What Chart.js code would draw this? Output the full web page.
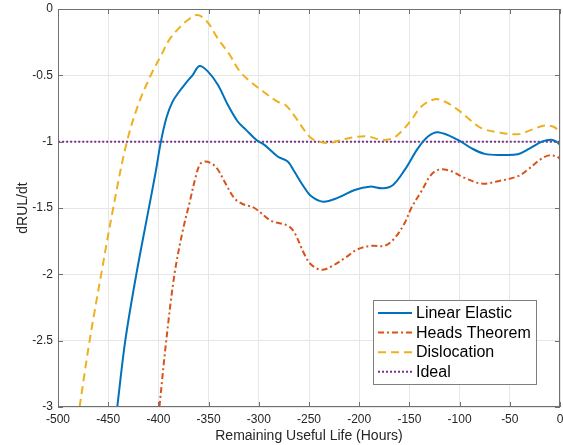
<!DOCTYPE html>
<html><head><meta charset="utf-8">
<script src="https://cdn.jsdelivr.net/npm/chart.js@4.4.1/dist/chart.umd.min.js"></script>
<style>html,body{margin:0;padding:0;background:#fff;}</style>
</head><body>
<canvas id="c" width="563" height="445"></canvas>
<script>
// ---- data ----
const xTicks = [-500,-450,-400,-350,-300,-250,-200,-150,-100,-50,0];
const yTicks = [-3,-2.5,-2,-1.5,-1,-0.5,0];
const seriesNames = ['Linear Elastic','Heads Theorem','Dislocation','Ideal'];

const linearX = [-441,-433,-422,-410,-403,-397.5,-392,-386,-379,-372.3,-365.7,-359.1,-350.8,-340.8,-330.9,-321,-312.7,-302,-294.4,-281.2,-271.2,-264.6,-256,-248,-236,-221,-204.5,-189.6,-176.3,-166.3,-154.7,-141.4,-131.5,-121.5,-101.6,-88.3,-75,-58.4,-42,-30,-18,-9,-4,0];
const linearY = [-3,-2.5,-2,-1.52,-1.24,-1,-0.82,-0.7,-0.62,-0.555,-0.496,-0.43,-0.47,-0.571,-0.722,-0.848,-0.911,-0.99,-1.024,-1.112,-1.15,-1.225,-1.33,-1.41,-1.452,-1.422,-1.364,-1.339,-1.351,-1.326,-1.213,-1.049,-0.961,-0.929,-0.986,-1.049,-1.092,-1.1,-1.095,-1.05,-1.0,-0.985,-0.998,-1.024];

const headsX = [-399,-392.2,-384,-376,-369,-363,-358.5,-353.4,-346,-340.8,-334.2,-324.3,-316,-304.4,-287.8,-271.2,-264.6,-254.3,-247.7,-237.7,-227.8,-214.5,-201.2,-187.9,-174.6,-164.7,-154.7,-148.1,-138.1,-128.2,-119.9,-108.2,-95,-78.4,-61.7,-41.8,-31.9,-21.9,-12,-3.6,0];
const headsY = [-3,-2.5,-2,-1.68,-1.46,-1.27,-1.17,-1.15,-1.17,-1.21,-1.3,-1.427,-1.47,-1.5,-1.596,-1.633,-1.684,-1.853,-1.928,-1.966,-1.941,-1.878,-1.81,-1.785,-1.785,-1.727,-1.613,-1.5,-1.374,-1.248,-1.21,-1.223,-1.273,-1.316,-1.298,-1.26,-1.21,-1.147,-1.105,-1.11,-1.13];

const dislocX = [-478.5,-468.5,-457,-445,-432,-420,-407,-397,-389,-379,-371,-361,-351,-341,-329,-319,-308,-296,-281,-274,-265,-255,-247.7,-239.4,-229.4,-217.8,-204.5,-191.2,-178,-166.3,-158,-148,-138.1,-124.8,-114.9,-101.6,-91.6,-78.4,-61.8,-41.8,-28.6,-15.3,-7,0];
const dislocY = [-3,-2.5,-2,-1.5,-1.02,-0.72,-0.49,-0.345,-0.23,-0.14,-0.085,-0.045,-0.1,-0.22,-0.345,-0.47,-0.55,-0.62,-0.7,-0.72,-0.8,-0.91,-0.974,-1,-1.01,-0.986,-0.966,-0.961,-0.986,-0.974,-0.923,-0.835,-0.735,-0.68,-0.697,-0.76,-0.823,-0.898,-0.929,-0.944,-0.911,-0.878,-0.886,-0.923];

const idealX = [-500,0];
const idealY = [-1,-1];

// ---- build ----
const pts = (xs, ys) => xs.map((x,i)=>({x:x, y:ys[i]}));
const FONT = "'Liberation Sans', Arial, Helvetica, sans-serif";
const styles = [
  {color:'#0072BD', dash:[]},
  {color:'#D95319', dash:[6,3,2,3]},
  {color:'#EDB120', dash:[8,5]},
  {color:'#7E2F8E', dash:[2,2]}
];
const allData = [pts(linearX,linearY), pts(headsX,headsY), pts(dislocX,dislocY), pts(idealX,idealY)];
const datasets = allData.map((d,i)=>({
  label: seriesNames[i], data: d,
  borderColor: styles[i].color, borderDash: styles[i].dash,
  borderWidth: 2, pointRadius: 0, fill: false,
  tension: 0.35, clip: 0
}));

const frameColor = '#707070';
const framePlugin = {
  id: 'frame',
  afterDatasetsDraw(chart) {
    const {ctx, chartArea: a, scales} = chart;
    ctx.save();
    ctx.strokeStyle = frameColor; ctx.lineWidth = 1; ctx.setLineDash([]);
    ctx.strokeRect(a.left + 0.5, a.top + 0.5, a.right - a.left - 1, a.bottom - a.top - 1);
    ctx.beginPath();
    xTicks.forEach(v => {
      const px = Math.round(scales.x.getPixelForValue(v)) + 0.5;
      ctx.moveTo(px, a.bottom); ctx.lineTo(px, a.bottom - 5);
      ctx.moveTo(px, a.top); ctx.lineTo(px, a.top + 5);
    });
    yTicks.forEach(v => {
      const py = Math.round(scales.y.getPixelForValue(v)) + 0.5;
      ctx.moveTo(a.left, py); ctx.lineTo(a.left + 5, py);
      ctx.moveTo(a.right, py); ctx.lineTo(a.right - 5, py);
    });
    ctx.stroke();

    // legend
    const bx = 373.5, by = 300.5, bw = 163, bh = 84;
    ctx.fillStyle = '#fff';
    ctx.fillRect(bx, by, bw, bh);
    ctx.strokeStyle = '#7f7f7f';
    ctx.strokeRect(bx, by, bw, bh);
    ctx.font = '16px ' + FONT;
    ctx.textBaseline = 'middle';
    ctx.textAlign = 'left';
    seriesNames.forEach((name, i) => {
      const yy = 313 + i * 19.6;
      ctx.strokeStyle = styles[i].color;
      ctx.lineWidth = 2;
      ctx.setLineDash(styles[i].dash);
      ctx.beginPath(); ctx.moveTo(378, yy); ctx.lineTo(412, yy); ctx.stroke();
      ctx.setLineDash([]);
      ctx.fillStyle = '#000';
      ctx.fillText(name, 416, yy + 0.5);
    });
    ctx.restore();
  }
};

new Chart(document.getElementById('c'), {
  type: 'line',
  data: { datasets },
  options: {
    responsive: false, animation: false, devicePixelRatio: 1,
    layout: { padding: { top: 9, right: 3, left: 0, bottom: 0 } },
    plugins: { legend: { display: false }, tooltip: { enabled: false } },
    scales: {
      x: {
        type: 'linear', min: -500, max: 0,
        afterBuildTicks: s => { s.ticks = xTicks.map(v => ({value: v})); },
        afterFit: s => { s.height = 38; s.paddingLeft = 0; s.paddingRight = 0; },
        grid: { color: '#e6e6e6', drawTicks: false },
        border: { display: false },
        ticks: { padding: 5, autoSkip: false, maxRotation: 0, color: '#262626',
                 font: { family: FONT, size: 12 }, callback: v => String(v) },
        title: { display: true, text: 'Remaining Useful Life (Hours)', color: '#262626',
                 font: { family: FONT, size: 14 }, padding: { top: 0, bottom: 0 } }
      },
      y: {
        type: 'linear', min: -3, max: 0,
        afterBuildTicks: s => { s.ticks = yTicks.map(v => ({value: v})); },
        afterFit: s => { s.width = 58; s.paddingTop = 0; s.paddingBottom = 0; },
        grid: { color: '#e6e6e6', drawTicks: false },
        border: { display: false },
        ticks: { padding: 5, autoSkip: false, color: '#262626',
                 font: { family: FONT, size: 12 }, callback: v => String(v) },
        title: { display: true, text: 'dRUL/dt', color: '#262626',
                 font: { family: FONT, size: 14 }, padding: { top: 14.5, bottom: 0 } }
      }
    }
  },
  plugins: [framePlugin]
});
</script>
</body></html>
